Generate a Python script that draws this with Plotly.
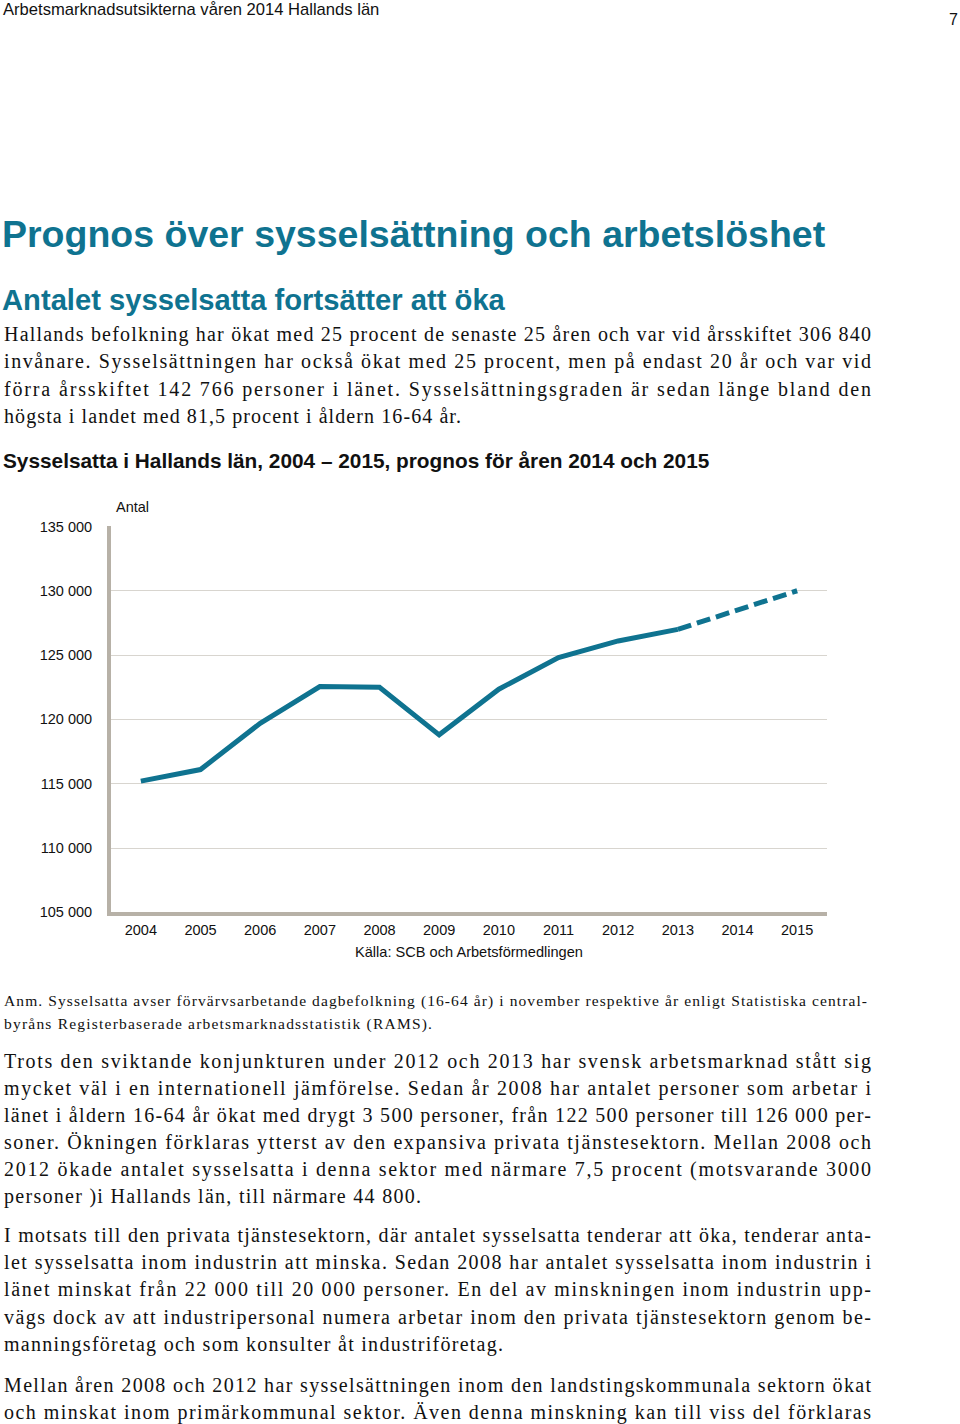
import json
import plotly.graph_objects as go

W, H = 960, 1424

years = ["2004", "2005", "2006", "2007", "2008", "2009", "2010", "2011", "2012", "2013", "2014", "2015"]
employed = [115200, 116100, 119700, 122550, 122500, 118800, 122350, 124800, 126100, 127000, 128500, 130000]
forecast_start = "2013"
y_ticks = [105000, 110000, 115000, 120000, 125000, 130000, 135000]
y_tick_labels = ["105 000", "110 000", "115 000", "120 000", "125 000", "130 000", "135 000"]

TEAL = "#0f7390"
AXIS = "#b7b1a7"
GRID = "#d8d5cf"

PL, PR, PT, PB = 111, 827, 526, 912

# measured vertical offset/scale of the captured page relative to layout pixels
V_OFF, V_SCALE = 7.5, 0.9889


def px(x):
    return x / W


def py(y):
    yc = (y - V_OFF) / V_SCALE
    return 1 - yc / H


fig = go.Figure()

k = years.index(forecast_start)
fig.add_trace(go.Scatter(x=years[:k + 1], y=employed[:k + 1], mode="lines",
                         line=dict(color=TEAL, width=5), showlegend=False, hoverinfo="skip"))
fig.add_trace(go.Scatter(x=years[k:], y=employed[k:], mode="lines",
                         line=dict(color=TEAL, width=5, dash="14px,6px"), showlegend=False, hoverinfo="skip"))

SANS = "Liberation Sans, Arial, sans-serif"
SERIF = "Liberation Serif, Times New Roman, serif"

fig.update_layout(
    width=W, height=H,
    margin=dict(l=0, r=0, t=0, b=0),
    paper_bgcolor="white", plot_bgcolor="white",
    xaxis=dict(domain=[px(PL), px(PR)], type="category", range=[-0.5, 11.5],
               showgrid=False, showline=True, linecolor=AXIS, linewidth=4,
               ticks="", tickfont=dict(family=SANS, size=14.5, color="#111"),
               ticklabelstandoff=1, zeroline=False),
    yaxis=dict(domain=[py(PB), py(PT)], range=[105000, 135000],
               tickvals=y_ticks, ticktext=y_tick_labels,
               showgrid=True, gridcolor=GRID, gridwidth=1,
               showline=True, linecolor=AXIS, linewidth=4,
               ticks="", tickfont=dict(family=SANS, size=14.5, color="#111"),
               ticklabelstandoff=12, zeroline=False),
)

ann = []
spread = []  # [annotation index, target text width in px]


def text(x, y, s, size, color="#111", family=SANS, bold=False, xanchor="left"):
    ann.append(dict(x=px(x), y=py(y), xref="paper", yref="paper", text=s, showarrow=False,
                    xanchor=xanchor, yanchor="middle", align="left" if xanchor == "left" else xanchor,
                    borderpad=0, borderwidth=0,
                    font=dict(family=family, size=size, color=color, weight="bold" if bold else "normal")))
    return len(ann) - 1


def para(lines, x0, y0, lh, size, right_edges):
    for i, (line, r) in enumerate(zip(lines, right_edges)):
        idx = text(x0, y0 + i * lh, line, size, family=SERIF)
        spread.append([idx, r - x0])


text(3, 9, "Arbetsmarknadsutsikterna våren 2014 Hallands län", 16.6)
text(958, 19, "7", 16, xanchor="right")

text(2, 234, "Prognos över sysselsättning och arbetslöshet", 37.5, color=TEAL, bold=True)
text(2, 300, "Antalet sysselsatta fortsätter att öka", 29.2, color=TEAL, bold=True)

para1 = [
    "Hallands befolkning har ökat med 25 procent de senaste 25 åren och var vid årsskiftet 306 840",
    "invånare. Sysselsättningen har också ökat med 25 procent, men på endast 20 år och var vid",
    "förra årsskiftet 142 766 personer i länet. Sysselsättningsgraden är sedan länge bland den",
    "högsta i landet med 81,5 procent i åldern 16-64 år.",
]
para(para1, 4, 334, 27.3, 20, [871, 871, 871, 461])

text(3, 460.5, "Sysselsatta i Hallands län, 2004 – 2015, prognos för åren 2014 och 2015", 20.8, bold=True)
text(116, 507, "Antal", 14.5)
text(469, 952, "Källa: SCB och Arbetsförmedlingen", 14.6, xanchor="center")

note = [
    "Anm. Sysselsatta avser förvärvsarbetande dagbefolkning (16-64 år) i november respektive år enligt Statistiska central-",
    "byråns Registerbaserade arbetsmarknadsstatistik (RAMS).",
]
para(note, 4, 1001, 23, 15.5, [867, 432])

para2 = [
    "Trots den sviktande konjunkturen under 2012 och 2013 har svensk arbetsmarknad stått sig",
    "mycket väl i en internationell jämförelse. Sedan år 2008 har antalet personer som arbetar i",
    "länet i åldern 16-64 år ökat med drygt 3 500 personer, från 122 500 personer till 126 000 per-",
    "soner. Ökningen förklaras ytterst av den expansiva privata tjänstesektorn. Mellan 2008 och",
    "2012 ökade antalet sysselsatta i denna sektor med närmare 7,5 procent (motsvarande 3000",
    "personer )i Hallands län, till närmare 44 800.",
]
para(para2, 4, 1061, 27.1, 20, [871, 871, 871, 871, 871, 421])

para3 = [
    "I motsats till den privata tjänstesektorn, där antalet sysselsatta tenderar att öka, tenderar anta-",
    "let sysselsatta inom industrin att minska. Sedan 2008 har antalet sysselsatta inom industrin i",
    "länet minskat från 22 000 till 20 000 personer. En del av minskningen inom industrin upp-",
    "vägs dock av att industripersonal numera arbetar inom den privata tjänstesektorn genom be-",
    "manningsföretag och som konsulter åt industriföretag.",
]
para(para3, 4, 1235, 27.3, 20, [871, 871, 871, 871, 503])

para4 = [
    "Mellan åren 2008 och 2012 har sysselsättningen inom den landstingskommunala sektorn ökat",
    "och minskat inom primärkommunal sektor. Även denna minskning kan till viss del förklaras",
]
para(para4, 4, 1385, 27.3, 20, [871, 871])

fig.update_layout(annotations=ann)

# spread the serif lines with letter spacing so each line fills its measured width (justified text)
post = """
document.body.style.margin = '0px';
var specs = %s;
var gd = document.getElementById('{plot_id}');
specs.forEach(function (s) {
  var t = gd.querySelector('g.annotation[data-index="' + s[0] + '"] text.annotation-text');
  if (!t) { return; }
  t.style.letterSpacing = '0px';
  var w0 = t.getComputedTextLength();
  var n = t.textContent.length;
  if (n > 1) {
    var ls = (s[1] - w0) / (n - 1);
    t.style.letterSpacing = ls.toFixed(3) + 'px';
  }
});
""" % json.dumps(spread)

fig.write_html("out.html", config={"displayModeBar": False}, post_script=post)
